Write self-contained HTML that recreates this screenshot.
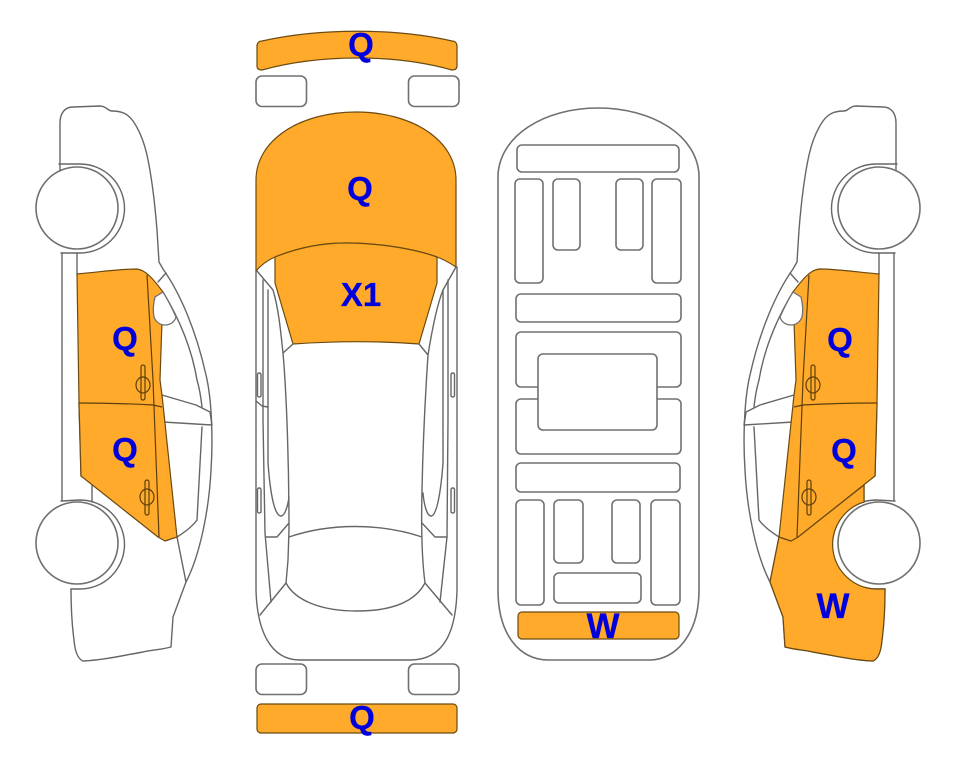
<!DOCTYPE html>
<html>
<head>
<meta charset="utf-8">
<style>
html,body{margin:0;padding:0;background:#fff;width:963px;height:768px;overflow:hidden}
svg{display:block}
.l{fill:none;stroke:#666;stroke-width:1.4;stroke-linejoin:round;stroke-linecap:round}
.b{fill:#fff;stroke:#707070;stroke-width:1.6}
.o{fill:#ffaa2b;stroke:#6b4a10;stroke-width:1.2;stroke-linejoin:round}
.d{fill:none;stroke:#5c3f0c;stroke-width:1.2}
.t{font-family:"Liberation Sans",sans-serif;font-weight:bold;fill:#0000dc;stroke:#0000dc;stroke-width:.3;text-anchor:middle}
</style>
</head>
<body>
<svg width="963" height="768" viewBox="0 0 963 768" xmlns="http://www.w3.org/2000/svg">
<defs>
<g id="body">
<path class="l" d="M60,170 L60,123 C60,113 65,107 73,107 L100,106 C106,106 108,111 112,111 C122,111 128,114 133,121 C140,131 144,142 147,155 C152,178 155,205 157,230 L159,262 L163,269 C180,293 196,330 206,375 C212,400 213,440 211,470 C209,510 200,555 186,582 L173,617 L171,647 C160,650 150,650 143,652 C125,655 105,660 83,661 C78,659 75,652 74,640 C72,625 71,610 71,589"/>
<path class="l" d="M62,253 L62,501 M77,253 L77,274 M79,403 L81,476 M92,485 L92,502"/>
<path class="l" d="M59,164 L80,164 A44.500,44.500 0 0 1 80,253 L61,253"/>
<path class="l" d="M61,501 L80,500 A44.500,44.500 0 0 1 80,589 L71,589"/>
<path class="l" d="M158,282 L166,273 M163,292 C180,320 192,350 197,380 C200,390 201,398 202,407 M202,427 L197,520 C192,527 185,532 177,537 L186,582"/>
<path class="l" d="M162,395 L196,405 L210,412 L212,425 L163,422"/>
</g>
<g id="door">
<path class="o" d="M77,274 C100,272 118,269 137,269 C146,270 154,280 163,292 L160,380 L162,395 L177,537 L165,541 L158,537 L81,476 L79,403 Z"/>
<path class="d" d="M147,275 L153,380 L159,537 M79,403 C105,403 135,404 153,405 L162,407"/>
<rect class="d" x="141" y="365" width="4" height="35" rx="2"/>
<ellipse class="d" cx="143" cy="385" rx="7" ry="8"/>
<rect class="d" x="145" y="480" width="4" height="35" rx="2"/>
<ellipse class="d" cx="147" cy="497" rx="7" ry="8"/>
</g>
<g id="top">
<path class="b" style="stroke-width:1.3" d="M163,292 L155,297 C153,305 153,312 154,317 C156,322 160,325 165,325 C171,325 175,321 176,317 C172,308 168,300 163,292 Z"/>
<circle class="b" cx="77" cy="208" r="41"/>
<circle class="b" cx="77" cy="543" r="41"/>
</g>
</defs>

<use href="#body"/>
<use href="#door"/>
<use href="#top"/>

<g transform="translate(956,0) scale(-1,1)">
<use href="#body"/>
<path class="o" d="M92,485 L92,502 A44.500,44.500 0 0 1 80,589 L71,589 C71,610 72,625 74,640 C75,652 78,659 83,661 C105,660 125,655 143,652 C150,650 160,650 171,647 L173,617 L186,582 L177,537 L165,541 L158,537 Z"/>
<use href="#door"/>
<use href="#top"/>
</g>

<!-- top view -->
<path class="l" d="M256,271 L256,590 C257,630 270,660 300,660 L410,660 C445,660 456,630 457,590 L457,267"/>
<path class="o" d="M257,46 C257,43 259,41 262,41 C320,28 395,28 452,41 C455,41 457,43 457,46 L457,66 C457,69 455,70 452,70 C395,54 320,54 262,70 C259,70 257,69 257,66 Z"/>
<rect class="b" x="256" y="76" width="50.500" height="30.500" rx="6"/>
<rect class="b" x="408.500" y="76" width="50.500" height="30.500" rx="6"/>
<rect class="b" x="256" y="664" width="50.500" height="30.500" rx="6"/>
<rect class="b" x="408.500" y="664" width="50.500" height="30.500" rx="6"/>
<rect class="o" x="257" y="704" width="200" height="29" rx="4"/>
<path class="o" d="M256,271 L256,180 C256,140 300,112 356,112 C412,112 456,140 456,180 L456,267 C450,263 445,260 437,257 C415,249 380,243 345,243 C325,243 300,247 275,257 C268,260 262,264 256,271 Z"/>
<path class="o" d="M275,257 C300,247 325,243 345,243 C380,243 415,249 437,257 L437,283 L419,344 C380,341 335,341 293,344 L275,283 Z"/>
<path class="l" d="M257,271 L273,290 C279,310 281,335 283,353 L293,344 M283,353 C287,400 289,470 289,530 L288,560 L286,583 C295,600 320,611 357,611 C395,611 416,600 425,583 C422,560 421,530 422,490 C423,440 425,400 428,355 L419,344 M428,355 C432,330 437,305 443,290 L456,267"/>
<path class="l" d="M263,280 L263,420 L265,533 L271,602 M448,280 L448,420 L447,537 L440,602"/>
<path class="l" d="M268,290 L268,463 C270,490 274,516 281,516 C285,516 288,505 289,497 M443,290 L443,463 C441,490 437,516 431,516 C427,516 424,505 423,493"/>
<path class="l" d="M256,401 L262,406 L268,407 M266,537 L277,537 L289,523 M422,523 L435,537 L447,537"/>
<path class="l" d="M289,537 C330,523 380,523 422,537 M286,583 L260,615 M425,583 L452,615"/>
<rect class="l" x="257.500" y="373" width="3.500" height="24" rx="1.500"/>
<rect class="l" x="257.500" y="488" width="3.500" height="25" rx="1.500"/>
<rect class="l" x="451" y="373" width="3.500" height="24" rx="1.500"/>
<rect class="l" x="451" y="488" width="3.500" height="25" rx="1.500"/>

<!-- underside view -->
<path class="b" d="M498,175 C500,135 545,108 598,108 C652,108 697,135 699,175 L699,590 C699,635 675,660 650,660 L548,660 C520,660 498,635 498,590 Z"/>
<rect class="b" x="517" y="145" width="162" height="27" rx="5"/>
<rect class="b" x="515" y="179" width="28" height="104" rx="5"/>
<rect class="b" x="553" y="179" width="27" height="71" rx="5"/>
<rect class="b" x="616" y="179" width="27" height="71" rx="5"/>
<rect class="b" x="652" y="179" width="29" height="104" rx="5"/>
<rect class="b" x="516" y="294" width="165" height="28" rx="5"/>
<rect class="b" x="516" y="332" width="165" height="55" rx="5"/>
<rect class="b" x="516" y="399" width="165" height="55" rx="5"/>
<rect class="b" x="538" y="354" width="119" height="76" rx="5"/>
<rect class="b" x="516" y="463" width="164" height="29" rx="5"/>
<rect class="b" x="516" y="500" width="28" height="105" rx="5"/>
<rect class="b" x="554" y="500" width="29" height="63" rx="5"/>
<rect class="b" x="612" y="500" width="28" height="63" rx="5"/>
<rect class="b" x="651" y="500" width="29" height="105" rx="5"/>
<rect class="b" x="554" y="573" width="87" height="30" rx="5"/>
<rect class="o" x="518" y="612" width="161" height="27" rx="4"/>

<!-- labels -->
<text class="t" font-size="33" x="361" y="56">Q</text>
<text class="t" font-size="33" x="360" y="200">Q</text>
<text class="t" font-size="33" x="361" y="306">X1</text>
<text class="t" font-size="33" x="362" y="729">Q</text>
<text class="t" font-size="33" x="125" y="350">Q</text>
<text class="t" font-size="33" x="125" y="461">Q</text>
<text class="t" font-size="33" x="840" y="351">Q</text>
<text class="t" font-size="33" x="844" y="462">Q</text>
<text class="t" font-size="35" x="833" y="618">W</text>
<text class="t" font-size="35" x="603" y="638">W</text>
</svg>
</body>
</html>
